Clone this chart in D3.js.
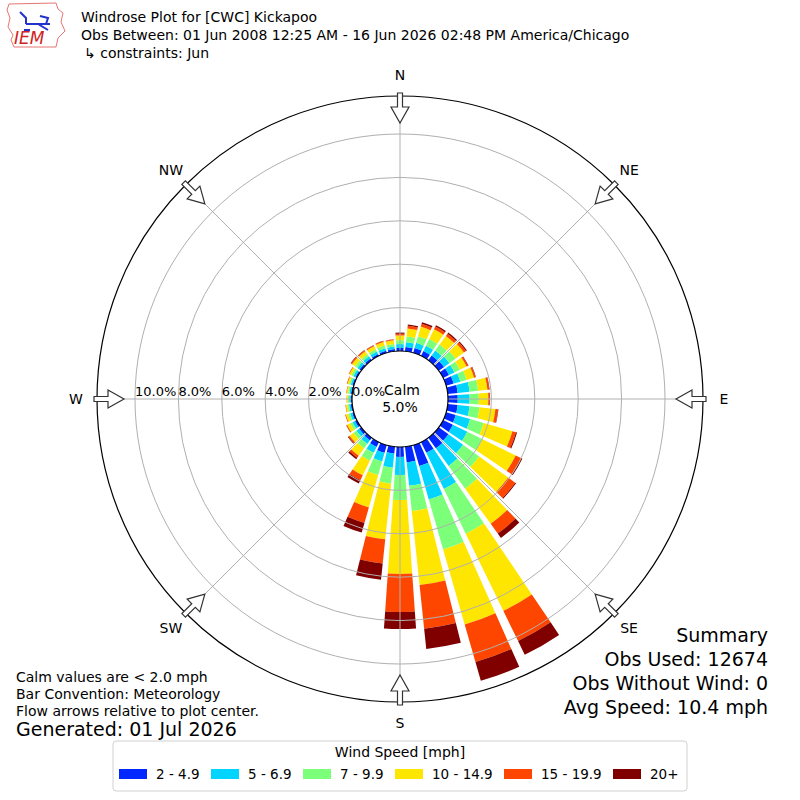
<!DOCTYPE html>
<html>
<head>
<meta charset="utf-8">
<script src="https://d3js.org/d3.v7.min.js"></script>
<style>
  body { margin: 0; background: #fff; }
  text { font-family: "DejaVu Sans", sans-serif; fill: #000; }
  .grid { fill: none; stroke: #b0b0b0; stroke-width: 1; }
</style>
</head>
<body>
<svg id="chart" width="800" height="800"></svg>
<script>
// wind direction sectors (degrees, meteorological convention)
var directions = d3.range(0, 360, 10);

var speedBins = ["2 - 4.9", "5 - 6.9", "7 - 9.9", "10 - 14.9", "15 - 19.9", "20+"];
var binColors = ["#0028ff", "#00d4ff", "#7cff79", "#ffe600", "#ff4600", "#800000"];

// percent of observations per sector, one array per speed bin
var bin2to5 = [0.14, 0.20, 0.23, 0.25, 0.27, 0.30, 0.30, 0.36, 0.46, 0.45, 0.46, 0.46,
               0.50, 0.55, 0.60, 0.55, 1.00, 0.72, 0.46, 0.32, 0.37, 0.25, 0.15, 0.12,
               0.10, 0.08, 0.07, 0.06, 0.06, 0.07, 0.08, 0.10, 0.10, 0.10, 0.10, 0.10];
var bin5to7 = [0.18, 0.22, 0.25, 0.27, 0.28, 0.30, 0.28, 0.32, 0.55, 0.55, 0.55, 0.69,
               0.74, 0.83, 1.00, 1.85, 1.60, 1.09, 0.83, 0.65, 0.41, 0.30, 0.20, 0.15,
               0.12, 0.10, 0.08, 0.07, 0.07, 0.08, 0.10, 0.12, 0.12, 0.12, 0.12, 0.12];
var bin7to10 = [0.18, 0.26, 0.32, 0.34, 0.34, 0.35, 0.28, 0.30, 0.40, 0.42, 0.46, 0.65,
                0.78, 0.92, 1.30, 2.30, 2.40, 1.17, 1.15, 0.74, 0.65, 0.40, 0.25, 0.17,
                0.12, 0.10, 0.08, 0.06, 0.07, 0.08, 0.10, 0.13, 0.12, 0.12, 0.13, 0.12];
var bin10to15 = [0.22, 0.38, 0.46, 0.50, 0.49, 0.48, 0.34, 0.36, 0.43, 0.44, 0.74, 1.38,
                 1.70, 1.65, 2.00, 3.95, 3.60, 3.43, 3.41, 2.58, 1.56, 0.75, 0.42, 0.22,
                 0.16, 0.11, 0.07, 0.05, 0.06, 0.08, 0.11, 0.17, 0.17, 0.16, 0.17, 0.17];
var bin15to20 = [0.08, 0.12, 0.13, 0.14, 0.13, 0.12, 0.08, 0.07, 0.08, 0.06, 0.12, 0.17,
                 0.29, 0.40, 0.55, 1.55, 1.80, 2.02, 1.75, 1.12, 0.74, 0.25, 0.12, 0.07,
                 0.04, 0.03, 0.02, 0.01, 0.02, 0.03, 0.03, 0.06, 0.05, 0.05, 0.05, 0.04];
var bin20up = [0.05, 0.06, 0.08, 0.07, 0.06, 0.05, 0.02, 0.02, 0.02, 0.02, 0.02, 0.05,
               0.05, 0.05, 0.25, 0.70, 0.90, 0.94, 0.79, 0.75, 0.46, 0.17, 0.08, 0.03,
               0.01, 0.00, 0.00, 0.00, 0.00, 0.00, 0.00, 0.02, 0.02, 0.01, 0.01, 0.01];

var ringTicks = [0, 2, 4, 6, 8, 10];
var compassLabels = ["N", "NE", "E", "SE", "S", "SW", "W", "NW"];

var titleLines = ["Windrose Plot for [CWC] Kickapoo",
                  "Obs Between: 01 Jun 2008 12:25 AM - 16 Jun 2026 02:48 PM America/Chicago",
                  "\u21b3 constraints: Jun"];
var noteLines = ["Calm values are < 2.0 mph", "Bar Convention: Meteorology",
                 "Flow arrows relative to plot center."];
var summaryLines = ["Summary", "Obs Used: 12674", "Obs Without Wind: 0", "Avg Speed: 10.4 mph"];
var calmPct = 5.0;

var svg = d3.select("#chart");
var cx = 400, cy = 399;
var rad = Math.PI / 180;

var r = d3.scaleLinear().domain([0, 10]).range([48, 265]);
var outerR = 303;

var plot = svg.append("g").attr("transform", "translate(" + cx + "," + cy + ")");

// stack the bins
var series = [bin2to5, bin5to7, bin7to10, bin10to15, bin15to20, bin20up];
var rows = directions.map(function (d, i) {
    var o = { dir: d };
    speedBins.forEach(function (b, j) { o[b] = series[j][i]; });
    return o;
});
var stacked = d3.stack().keys(speedBins)(rows);

var arc = d3.arc();
var halfOpen = 4; // 80% opening of a 10 degree sector

plot.selectAll(".layer")
    .data(stacked)
    .enter().append("g")
    .attr("class", "layer")
    .attr("fill", function (d, i) { return binColors[i]; })
    .selectAll("path")
    .data(function (d) { return d; })
    .enter().append("path")
    .attr("d", function (d) {
        return arc({
            innerRadius: r(d[0]),
            outerRadius: r(d[1]),
            startAngle: (d.data.dir - halfOpen) * rad,
            endAngle: (d.data.dir + halfOpen) * rad
        });
    });

// grid on top of bars
plot.selectAll(".ring")
    .data(ringTicks.slice(1))
    .enter().append("circle")
    .attr("class", "grid")
    .attr("r", function (d) { return r(d); });

plot.selectAll(".spoke")
    .data(d3.range(0, 360, 45))
    .enter().append("line")
    .attr("class", "grid")
    .attr("x1", function (d) { return r(0) * Math.sin(d * rad); })
    .attr("y1", function (d) { return -r(0) * Math.cos(d * rad); })
    .attr("x2", function (d) { return outerR * Math.sin(d * rad); })
    .attr("y2", function (d) { return -outerR * Math.cos(d * rad); });

plot.append("circle")
    .attr("r", outerR)
    .attr("fill", "none")
    .attr("stroke", "#000")
    .attr("stroke-width", 1.2);

// calm circle
plot.append("circle")
    .attr("r", r(0))
    .attr("fill", "#fff")
    .attr("stroke", "#000")
    .attr("stroke-width", 1.2);

plot.selectAll(".rlabel")
    .data(ringTicks)
    .enter().append("text")
    .attr("x", function (d) { return -r(d); })
    .attr("y", -3)
    .attr("font-size", 13)
    .text(function (d) { return d.toFixed(1) + "%"; });

plot.append("text")
    .attr("text-anchor", "middle")
    .attr("x", 2)
    .attr("y", -4)
    .attr("font-size", 14)
    .text("Calm");
plot.append("text")
    .attr("text-anchor", "middle")
    .attr("y", 13)
    .attr("font-size", 14)
    .text(calmPct.toFixed(1) + "%");

// flow arrows pointing to plot center
var arrowPath = "M-2.5,-306L2.5,-306L2.5,-292L9,-292L0,-276L-9,-292L-2.5,-292Z";
plot.selectAll(".arrow")
    .data(d3.range(0, 360, 45))
    .enter().append("path")
    .attr("d", arrowPath)
    .attr("transform", function (d) { return "rotate(" + d + ")"; })
    .attr("fill", "#fff")
    .attr("stroke", "#333")
    .attr("stroke-width", 1.2);

plot.selectAll(".compass")
    .data(compassLabels)
    .enter().append("text")
    .attr("text-anchor", "middle")
    .attr("dominant-baseline", "central")
    .attr("font-size", 14)
    .attr("x", function (d, i) { return 324 * Math.sin(i * 45 * rad); })
    .attr("y", function (d, i) { return -324 * Math.cos(i * 45 * rad); })
    .text(function (d) { return d; });

// header
svg.selectAll(".title")
    .data(titleLines)
    .enter().append("text")
    .attr("x", function (d, i) { return i == 2 ? 84 : 81; })
    .attr("y", function (d, i) { return 22 + i * 18; })
    .attr("font-size", 14)
    .text(function (d) { return d; });

// IEM logo
var logo = svg.append("g");
logo.append("path")
    .attr("d", "M9,4L56,3L58,9L63,13L61,22L65,31L58,38L56,47L14,47L11,40L13,35L8,27L10,18L7,10Z")
    .attr("fill", "none")
    .attr("stroke", "#e05050")
    .attr("stroke-width", 0.8);
logo.append("path")
    .attr("d", "M20,12L26,18L26,24M26,24L50,24M40,16L48,18L46,24M38,24L48,30M24,30L30,30")
    .attr("fill", "none")
    .attr("stroke", "#2233cc")
    .attr("stroke-width", 2);
logo.append("text")
    .attr("x", 14)
    .attr("y", 44)
    .attr("font-family", "Liberation Serif, serif")
    .attr("font-style", "italic")
    .attr("font-size", 17)
    .style("fill", "#d02020")
    .text("IEM");

// notes, bottom left
svg.selectAll(".note")
    .data(noteLines)
    .enter().append("text")
    .attr("x", 16)
    .attr("y", function (d, i) { return 682 + i * 17; })
    .attr("font-size", 14)
    .text(function (d) { return d; });
svg.append("text")
    .attr("x", 16)
    .attr("y", 736)
    .attr("font-size", 19)
    .text("Generated: 01 Jul 2026");

// summary, bottom right
svg.selectAll(".summary")
    .data(summaryLines)
    .enter().append("text")
    .attr("x", 768)
    .attr("y", function (d, i) { return 642 + i * 24; })
    .attr("text-anchor", "end")
    .attr("font-size", 19)
    .text(function (d) { return d; });

// legend
var legend = svg.append("g");
legend.append("rect")
    .attr("x", 113).attr("y", 741)
    .attr("width", 574).attr("height", 50)
    .attr("rx", 3)
    .attr("fill", "#fff")
    .attr("stroke", "#d0d0d0");
legend.append("text")
    .attr("x", 400).attr("y", 757)
    .attr("text-anchor", "middle")
    .attr("font-size", 14)
    .text("Wind Speed [mph]");
var legendX = [119, 211, 303, 395, 504, 613];
var items = legend.selectAll(".item")
    .data(speedBins)
    .enter().append("g")
    .attr("transform", function (d, i) { return "translate(" + legendX[i] + ",769)"; });
items.append("rect")
    .attr("width", 28).attr("height", 10)
    .attr("fill", function (d, i) { return binColors[i]; });
items.append("text")
    .attr("x", 37).attr("y", 10)
    .attr("font-size", 13.5)
    .text(function (d) { return d; });
</script>
</body>
</html>
